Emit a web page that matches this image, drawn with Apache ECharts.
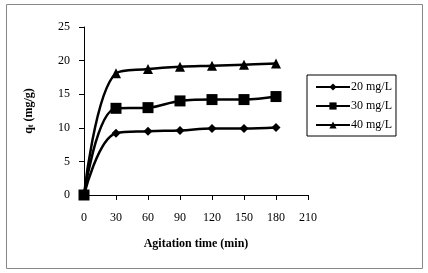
<!DOCTYPE html>
<html>
<head>
<meta charset="utf-8">
<script src="https://cdn.jsdelivr.net/npm/echarts@6/dist/echarts.min.js"></script>
<style>
  html, body { margin: 0; padding: 0; background: #fff; }
  #chart { width: 428px; height: 273px; }
</style>
</head>
<body>
<div id="chart"></div>
<script>
const times = [0, 30, 60, 90, 120, 150, 180];
const conc20 = [0, 9.2, 9.5, 9.6, 9.9, 9.9, 10.05];
const conc30 = [0, 12.9, 13.0, 14.0, 14.2, 14.2, 14.65];
const conc40 = [0, 18.1, 18.75, 19.1, 19.25, 19.4, 19.55];
const seriesNames = ['20 mg/L', '30 mg/L', '40 mg/L'];

const font = 'Liberation Serif, Times New Roman, serif';
const myChart = echarts.init(document.getElementById('chart'), null, {renderer: 'canvas'});

function pairs(vals) {
  return times.map((t, i) => [t, vals[i]]);
}

function makeSeries(name, vals, symbol, size) {
  return {
    name: name,
    type: 'line',
    smooth: 0.4,
    symbol: symbol,
    symbolSize: size,
    lineStyle: {color: '#000', width: 2.5},
    itemStyle: {color: '#000'},
    data: pairs(vals)
  };
}

const option = {
  animation: false,
  graphic: [{
    type: 'rect',
    shape: {x: 6.5, y: 4.5, width: 416, height: 264},
    style: {fill: 'none', stroke: '#888', lineWidth: 1}
  }],
  grid: {left: 84, right: 120, top: 27, bottom: 78},
  legend: {
    orient: 'vertical',
    left: 307,
    top: 75,
    itemWidth: 34,
    itemHeight: 9,
    itemGap: 7,
    padding: [6, 4, 5, 8],
    borderColor: '#000',
    borderWidth: 1,
    textStyle: {fontFamily: font, fontSize: 12, color: '#000', padding: [0, 0, 0, -4]},
    data: seriesNames
  },
  xAxis: {
    type: 'value',
    min: 0, max: 210, interval: 30,
    name: 'Agitation time (min)',
    nameLocation: 'middle',
    nameGap: 43,
    nameTextStyle: {fontFamily: font, fontSize: 12, fontWeight: 'bold', color: '#000'},
    axisLine: {lineStyle: {color: '#000', width: 1}},
    axisTick: {show: true, inside: false, length: 5, lineStyle: {color: '#000'}},
    axisLabel: {fontFamily: font, fontSize: 12, color: '#000', margin: 17},
    splitLine: {show: false}
  },
  yAxis: {
    type: 'value',
    min: 0, max: 25, interval: 5,
    name: '{q|q}{t|t}{q| (mg/g)}',
    nameLocation: 'middle',
    nameGap: 49,
    nameRotate: 90,
    nameTextStyle: {
      rich: {
        q: {fontFamily: font, fontSize: 12, fontWeight: 'bold', color: '#000'},
        t: {fontFamily: font, fontSize: 8, fontWeight: 'bold', color: '#000', verticalAlign: 'bottom', padding: [4, 0, 0, 0]}
      }
    },
    axisLine: {show: true, lineStyle: {color: '#000', width: 1}},
    axisTick: {show: true, inside: false, length: 5, lineStyle: {color: '#000'}},
    axisLabel: {fontFamily: font, fontSize: 12, color: '#000', margin: 14},
    splitLine: {show: false}
  },
  series: [
    makeSeries(seriesNames[0], conc20, 'diamond', 9),
    makeSeries(seriesNames[1], conc30, 'rect', 11),
    makeSeries(seriesNames[2], conc40, 'triangle', 10)
  ]
};

myChart.setOption(option);
</script>
</body>
</html>
